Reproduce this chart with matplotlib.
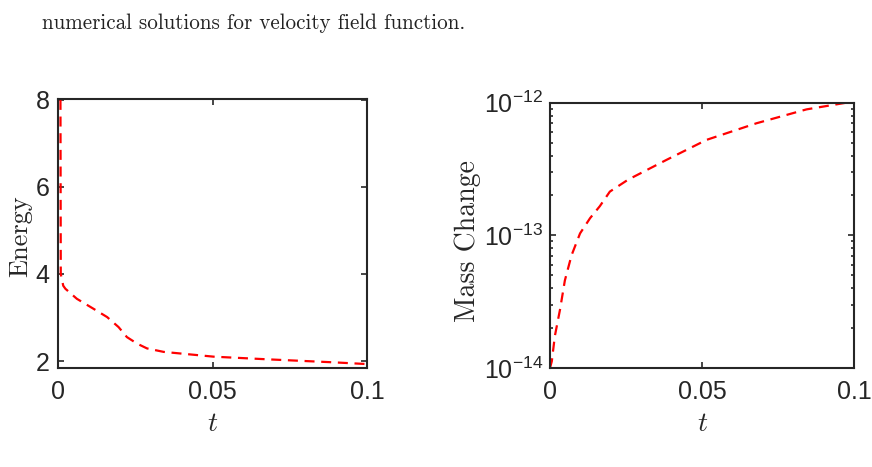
import math
import matplotlib
matplotlib.use("Agg")
import matplotlib.pyplot as plt
from matplotlib.ticker import FixedLocator, FuncFormatter, LogLocator, NullFormatter

# energy curve (left)
t_energy = [0.0008, 0.0009, 0.0017, 0.0024, 0.0061, 0.0115, 0.0159, 0.0196,
            0.0223, 0.0256, 0.0288, 0.0342, 0.0504, 0.0676, 0.0892, 0.1]
energy = [8.0, 4.0, 3.73, 3.66, 3.43, 3.20, 3.01, 2.78,
          2.55, 2.40, 2.29, 2.21, 2.10, 2.04, 1.97, 1.93]

# mass change curve (right), log10 values
t_mass = [0.0, 0.0006, 0.0016, 0.0033, 0.0049, 0.0071, 0.0099, 0.0132, 0.0164,
          0.0197, 0.0257, 0.0384, 0.0515, 0.0679, 0.0844, 0.1]
log_mass = [-14.0, -13.95, -13.76, -13.56, -13.34, -13.15, -12.985, -12.87, -12.78,
            -12.67, -12.58, -12.43, -12.28, -12.155, -12.05, -11.99]
mass = [10.0 ** v for v in log_mass]

xticks = [0, 0.05, 0.1]
xticklabels = ['0', '0.05', '0.1']
energy_ticks = [2, 4, 6, 8]
mass_ticks = [1e-14, 1e-13, 1e-12]

caption = "numerical solutions for velocity field function."

plt.rcParams['font.family'] = ['Liberation Sans', 'DejaVu Sans']
plt.rcParams['mathtext.fontset'] = 'custom'
plt.rcParams['mathtext.rm'] = 'Liberation Sans'
plt.rcParams['mathtext.it'] = 'Liberation Sans:italic'
plt.rcParams['axes.unicode_minus'] = False

gray = '#262626'

fig = plt.figure(figsize=(8.72, 4.67), dpi=100)
ax1 = fig.add_axes([0.0665, 0.212, 0.3544, 0.576])
ax2 = fig.add_axes([0.6307, 0.212, 0.3486, 0.568])


def style(ax):
    for sp in ax.spines.values():
        sp.set_linewidth(1.5)
        sp.set_color(gray)
    ax.tick_params(which='both', direction='in', top=True, right=True,
                   colors=gray, labelsize=18, width=1.2)
    ax.tick_params(which='major', length=4)
    ax.tick_params(which='minor', length=2.5)
    ax.tick_params(axis='x', pad=9)
    ax.set_xlim(0, 0.1)
    ax.set_xticks(xticks)
    ax.set_xticklabels(xticklabels)
    ax.set_xlabel('t', fontfamily='cmmi10', fontsize=20, color=gray)
    ax.xaxis.set_label_coords(0.5, -0.165)
    ax.xaxis.label.set_va('top')


ax1.plot(t_energy, energy, color='red', ls='--', lw=1.6, dashes=(4.5, 3))
style(ax1)
ax1.set_ylim(1.84, 8.02)
ax1.set_yticks(energy_ticks)
ax1.tick_params(axis='y', pad=6)
ax1.set_ylabel('Energy', fontfamily='cmr10', fontsize=19, color=gray)
ax1.yaxis.set_label_coords(-0.085, 0.49)

ax2.plot(t_mass, mass, color='red', ls='--', lw=1.6, dashes=(4.5, 3))
ax2.set_yscale('log')
style(ax2)
ax2.set_ylim(1e-14, 1e-12)
ax2.yaxis.set_major_locator(FixedLocator(mass_ticks))
ax2.yaxis.set_major_formatter(FuncFormatter(lambda v, p: r'$10^{%d}$' % round(math.log10(v))))
ax2.yaxis.set_minor_locator(LogLocator(base=10, subs=range(2, 10)))
ax2.yaxis.set_minor_formatter(NullFormatter())
ax2.tick_params(axis='y', pad=5)
ax2.set_ylabel('Mass Change', fontfamily='cmr10', fontsize=20, color=gray)
ax2.yaxis.set_label_coords(-0.227, 0.48)

fig.text(42 / 872, 1 - 23 / 467, caption, fontfamily='cmr10', fontsize=15.2,
         color='#222222', va='center', ha='left')

fig.savefig('out.png', dpi=100)
